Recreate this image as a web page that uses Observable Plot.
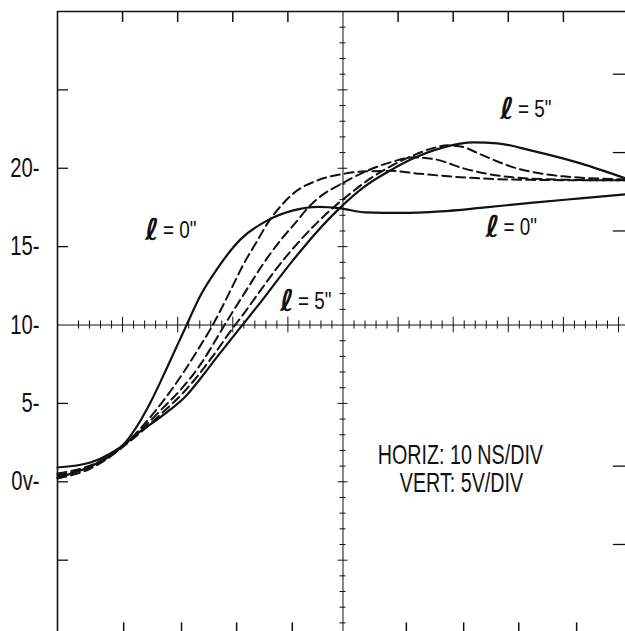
<!DOCTYPE html>
<html>
<head>
<meta charset="utf-8">
<script src="https://cdn.jsdelivr.net/npm/d3@7"></script>
<script src="https://cdn.jsdelivr.net/npm/@observablehq/plot@0.6"></script>
<style>
  html, body { margin: 0; padding: 0; background: #fff; }
  #chart svg { display: block; }
</style>
</head>
<body>
<div id="chart"></div>
<script>
// ---- Data (time in ns, voltage in V) ----
const l0Time = [-1.81, 4.17, 7.80, 10.16, 12.70, 15.06, 18.33, 21.42, 24.14, 27.22, 31.40, 36.30, 41.02, 45.55, 49.55, 54.08, 60.44, 67.70, 74.95, 84.03, 93.10, 101.27];
const l0Volt = [0.913, 1.232, 1.806, 2.380, 3.593, 5.061, 7.486, 9.847, 11.889, 13.612, 15.463, 16.675, 17.313, 17.537, 17.441, 17.186, 17.154, 17.250, 17.473, 17.792, 18.079, 18.334];

const l5Time = [-1.81, 4.17, 7.80, 10.16, 12.70, 15.06, 18.69, 21.42, 24.14, 27.22, 31.40, 35.03, 40.47, 45.01, 49.55, 53.72, 58.62, 62.79, 68.24, 73.68, 78.04, 84.03, 93.10, 101.27];
const l5Volt = [0.274, 0.976, 1.678, 2.316, 3.082, 3.656, 4.614, 5.443, 6.592, 7.996, 9.847, 11.442, 13.931, 15.845, 17.504, 18.780, 19.866, 20.632, 21.334, 21.653, 21.589, 21.142, 20.312, 19.355];

const dashATime = [-1.81, 4.17, 7.80, 10.16, 13.25, 16.88, 21.05, 24.14, 26.13, 27.77, 29.58, 31.94, 34.48, 36.30, 38.66, 41.02, 45.37, 49.55, 54.08, 58.62, 64.07, 73.14, 84.03, 101.27];
const dashAVolt = [0.530, 1.040, 1.678, 2.316, 3.401, 4.933, 6.975, 8.698, 9.847, 10.932, 12.208, 13.867, 15.399, 16.484, 17.569, 18.398, 19.228, 19.611, 19.802, 19.834, 19.643, 19.387, 19.260, 19.228];

const dashBTime = [-1.81, 4.17, 7.80, 10.16, 13.25, 16.88, 21.05, 24.14, 26.32, 28.13, 29.58, 32.67, 35.57, 38.66, 41.74, 43.56, 45.92, 49.55, 53.72, 58.62, 62.79, 66.79, 71.87, 80.94, 91.29, 101.27];
const dashBVolt = [0.402, 0.976, 1.678, 2.316, 3.273, 4.550, 6.082, 7.486, 8.698, 9.783, 10.613, 12.336, 13.931, 15.399, 16.675, 17.441, 18.207, 18.973, 19.739, 20.377, 20.696, 20.568, 19.994, 19.419, 19.260, 19.228];

const dashCTime = [-1.81, 4.17, 7.80, 10.16, 13.25, 16.88, 21.05, 24.14, 26.86, 29.95, 31.76, 35.03, 38.11, 41.74, 45.37, 48.28, 51.36, 54.99, 58.62, 62.79, 65.88, 68.97, 71.69, 74.95, 80.94, 90.02, 101.27];
const dashCVolt = [0.211, 0.849, 1.614, 2.253, 3.146, 4.295, 5.699, 6.975, 8.251, 9.783, 10.613, 12.208, 13.676, 15.207, 16.548, 17.504, 18.398, 19.355, 20.121, 20.823, 21.238, 21.461, 21.366, 20.887, 20.057, 19.483, 19.292];

// tick values
const xTopTicks = [10, 20, 30, 40, 60, 70, 80, 90];
const xBottomTicks = [10.2, 20.7, 30.7, 40.8, 61.5, 71.9, 81.9, 92.4];
const yLeftTicks = [25, 20, 15, 5, 0, -5];
const yRightTicks = [26, 21, 16, 1, -4];
const yLabelValues = [20, 15, 10, 5, 0];
const yLabelTexts = ["20-", "15-", "10-", "5-", "0v-"];

// annotations: the script ell and its value
const noteValues = ["= 0\"", "= 5\"", "= 0\"", "= 5\""];
const noteTime = [15.34, 39.84, 77.13, 79.76];
const noteVolt = [16.02, 11.51, 16.2, 23.73];
const infoTexts = ["HORIZ: 10 NS/DIV", "VERT: 5V/DIV"];
const infoTime = [71.3, 71.5];
const infoVolt = [1.68, -0.11];

// ---- build tables ----
const toRows = (ts, vs) => ts.map((t, i) => ({t, v: vs[i]}));
const l0 = toRows(l0Time, l0Volt);
const l5 = toRows(l5Time, l5Volt);
const dA = toRows(dashATime, dashAVolt);
const dB = toRows(dashBTime, dashBVolt);
const dC = toRows(dashCTime, dashCVolt);

const xMin = -1.81, xMax = 101.27, yMin = -9.55, yMax = 30;
const xCenter = 50, yCenter = 10;
const yMinor = d3.range(-9, 30).filter(d => d !== yCenter);
const xMinor = d3.range(2, 101, 2).filter(d => d !== xCenter);

const labels = yLabelValues.map((v, i) => ({v, text: yLabelTexts[i]}));
const notes = noteValues.map((text, i) => ({text, t: noteTime[i], v: noteVolt[i]}));
const infos = infoTexts.map((text, i) => ({text, t: infoTime[i], v: infoVolt[i]}));

const FONT = "'Liberation Sans', Arial, sans-serif";
const ink = "#111";

const chart = Plot.plot({
  width: 625,
  height: 631,
  marginLeft: 57,
  marginRight: 0,
  marginTop: 11,
  marginBottom: 0,
  x: {domain: [xMin, xMax], axis: null},
  y: {domain: [yMin, yMax], axis: null},
  style: {fontFamily: FONT, background: "#fff", color: ink},
  marks: [
    // frame (left + top)
    Plot.ruleX([xMin], {y1: yMin, y2: yMax, stroke: ink, strokeWidth: 1.6}),
    Plot.ruleY([yMax], {x1: xMin, x2: xMax, stroke: ink, strokeWidth: 1.6}),
    // frame ticks
    Plot.ruleX(xTopTicks, {y1: yMax, y2: yMax - 0.7, stroke: ink, strokeWidth: 1.5}),
    Plot.ruleX(xBottomTicks, {y1: yMin, y2: yMin + 0.55, stroke: ink, strokeWidth: 1.5}),
    Plot.ruleY(yLeftTicks, {x1: xMin, x2: xMin + 2.0, stroke: ink, strokeWidth: 1.3}),
    Plot.ruleY(yRightTicks, {x1: xMax - 2.2, x2: xMax, stroke: ink, strokeWidth: 1.3}),
    // center graticule axes with minor ticks
    Plot.ruleX([xCenter], {y1: yMin, y2: yMax, stroke: ink, strokeWidth: 1}),
    Plot.ruleY([yCenter], {x1: xMin, x2: xMax, stroke: ink, strokeWidth: 1}),
    Plot.ruleY(yMinor, {x1: d => xCenter - (d % 5 === 0 ? 0.9 : 0.55), x2: d => xCenter + (d % 5 === 0 ? 0.9 : 0.55), stroke: ink, strokeWidth: 1}),
    Plot.ruleX(xMinor, {y1: d => yCenter - (d % 10 === 0 ? 0.5 : 0.26), y2: d => yCenter + (d % 10 === 0 ? 0.5 : 0.26), stroke: ink, strokeWidth: 1}),
    // y labels
    Plot.text(labels, {x: xMin, y: "v", text: "text", dx: -18, textAnchor: "end", fontSize: 27, fill: ink}),
    // curves
    Plot.line(dA, {x: "t", y: "v", curve: "monotone-x", stroke: ink, strokeWidth: 2, strokeDasharray: "9,5"}),
    Plot.line(dB, {x: "t", y: "v", curve: "monotone-x", stroke: ink, strokeWidth: 2, strokeDasharray: "9,5"}),
    Plot.line(dC, {x: "t", y: "v", curve: "monotone-x", stroke: ink, strokeWidth: 2, strokeDasharray: "9,5"}),
    Plot.line(l0, {x: "t", y: "v", curve: "monotone-x", stroke: ink, strokeWidth: 2.2}),
    Plot.line(l5, {x: "t", y: "v", curve: "monotone-x", stroke: ink, strokeWidth: 2.2}),
    // annotations
    Plot.text(notes, {x: "t", y: "v", text: () => "\u2113", fontSize: 30, fontWeight: "bold", fontFamily: "'DejaVu Sans', sans-serif", fill: ink}),
    Plot.text(notes, {x: "t", y: "v", text: "text", dx: 11, textAnchor: "start", fontSize: 23, fill: ink}),
    Plot.text(infos, {x: "t", y: "v", text: "text", fontSize: 27, fill: ink})
  ]
});
document.getElementById("chart").appendChild(chart);

// condense the narrow sans lettering of the original (matched by text content)
const squeeze = new Map([
  ...yLabelTexts.map(t => [t, 0.75]),
  ...noteValues.map(t => [t, 0.82]),
  ...infoTexts.map(t => [t, 0.73])
]);
d3.select(chart).selectAll("text").each(function () {
  const s = squeeze.get(this.textContent);
  if (s == null) return;
  const tr = this.getAttribute("transform") || "";
  this.setAttribute("transform", `${tr} scale(${s},1)`);
});
</script>
</body>
</html>
